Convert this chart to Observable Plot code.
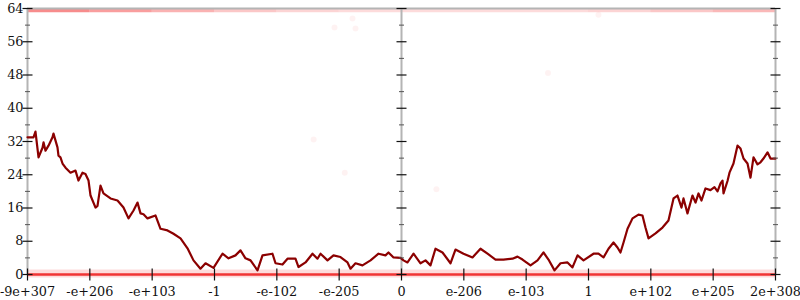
<!DOCTYPE html>
<html>
<head>
<meta charset="utf-8">
<script src="https://cdn.jsdelivr.net/npm/d3@7"></script>
<script src="https://cdn.jsdelivr.net/npm/@observablehq/plot@0.6"></script>
<style>
  html, body { margin: 0; padding: 0; background: #fff; }
  svg { display: block; }
</style>
</head>
<body>
<div id="chart"></div>
<script>
// Tick labels along the x axis (positions 0..12, evenly spaced)
const xTickLabels = ["-9e+307", "-e+206", "-e+103", "-1", "-e-102", "-e-205", "0",
                     "e-206", "e-103", "1", "e+102", "e+205", "2e+308"];
const xTicks = xTickLabels.map((_, i) => i);
const yMajor = [0, 8, 16, 24, 32, 40, 48, 56, 64];
const yMinor = [4, 12, 20, 28, 36, 44, 52, 60];
const axisPositions = [0, 6, 12];

// Line series (x in tick-position units, y values)
const lineX = [0,0.096,0.128,0.177,0.241,0.257,0.289,0.337,0.401,0.417,0.481,0.497,0.529,0.562,0.610,0.690,0.770,0.818,0.882,0.930,0.979,1.011,1.091,1.123,1.171,1.219,1.332,1.444,1.540,1.620,1.701,1.765,1.813,1.861,1.925,2.053,2.134,2.246,2.342,2.455,2.567,2.663,2.775,2.856,2.984,3.128,3.225,3.337,3.417,3.497,3.578,3.690,3.770,3.930,3.979,4.091,4.171,4.299,4.348,4.460,4.572,4.652,4.701,4.813,4.909,5.021,5.134,5.182,5.262,5.374,5.503,5.631,5.743,5.791,5.872,5.984,6.032,6.096,6.193,6.305,6.385,6.465,6.545,6.658,6.786,6.866,6.995,7.139,7.267,7.380,7.508,7.636,7.781,7.861,7.941,8.070,8.182,8.278,8.358,8.455,8.551,8.663,8.743,8.824,8.920,9.080,9.160,9.241,9.321,9.401,9.465,9.513,9.562,9.626,9.706,9.802,9.866,9.914,9.963,10.075,10.187,10.283,10.364,10.428,10.492,10.524,10.588,10.668,10.717,10.765,10.813,10.877,10.957,11.021,11.070,11.118,11.150,11.166,11.230,11.262,11.326,11.390,11.439,11.487,11.551,11.599,11.647,11.711,11.759,11.807,11.872,11.920,12];
const lineY = [33,33,34.4,28.2,30.5,31.8,29.8,31,33,33.9,30.6,28.6,28.2,26.7,25.7,24.5,25,22.6,24.5,24.2,22.6,19,16.1,16.5,21.4,19.5,18.3,17.8,16.1,13.5,15.4,17.3,14.7,14.5,13.5,14.2,11,10.6,9.8,8.7,6.3,3.4,1.4,2.7,1.6,5,3.9,4.6,5.8,3.9,3.4,1,4.6,5,2.7,2.4,3.8,3.8,1.8,2.9,5,3.8,5,3.4,4.6,4.2,2.9,1.4,2.7,2.2,3.4,5,4.6,5.3,4.1,4.0,3.4,2.9,5,2.7,3.4,2.2,6.2,5.3,2.7,6,5,4.1,6.2,5,3.6,3.6,3.8,4.3,3.6,2.2,3.4,5.3,3.6,1,2.7,2.9,1.7,4.6,3.4,5,5,4.1,6.2,7.7,6.5,5.3,7.7,11,13.5,14.4,14.2,11.3,8.7,9.9,11.3,13,18.3,19,16.1,18.3,14.7,19,17.3,19.5,17.8,20.7,20.3,21,20,21.9,22.6,19.5,22.5,24.5,26.7,31,30.3,27.9,26.7,23.3,28.2,26.5,27,27.9,29.4,27.9,27.9];
const line = lineX.map((x, i) => ({x, y: lineY[i]}));

// Faint scattered points away from the extremes
const scatterX = [4.925, 5.214, 5.262, 4.59, 5.09, 6.56, 8.35, 9.16];
const scatterY = [59.4, 61.6, 59.2, 32.5, 24.5, 20.5, 48.5, 62.5];
const scatter = scatterX.map((x, i) => ({x, y: scatterY[i]}));

// Density of points along the top (y = 64) band, by segment
const topBandX1 = [0, 1, 2, 3, 4, 5, 7, 9, 10, 11];
const topBandX2 = [1, 2, 3, 4, 5, 7, 9, 10, 11, 12];
const topBandOpacity = [0.45, 0.38, 0.3, 0.22, 0.17, 0.14, 0.14, 0.17, 0.22, 0.28];
const topBand = topBandX1.map((x1, i) => ({x1, x2: topBandX2[i], o: topBandOpacity[i]}));

const hTick = (half) => ({draw(c) { c.moveTo(-half, 0); c.lineTo(half, 0); }});
const vTick = (half) => ({draw(c) { c.moveTo(0, -half); c.lineTo(0, half); }});

const majorY = axisPositions.flatMap(x => yMajor.map(y => ({x, y})));
const minorY = axisPositions.flatMap(x => yMinor.map(y => ({x, y})));

const chart = Plot.plot({
  width: 800,
  height: 300,
  marginLeft: 27,
  marginRight: 25,
  marginTop: 8,
  marginBottom: 26,
  style: {fontFamily: "DejaVu Serif", fontSize: "12.8px", color: "#111", background: "#fff"},
  x: {domain: [0, 12], label: null},
  y: {domain: [0, 64], label: null},
  marks: [
    // point bands
    Plot.ruleY([0], {stroke: "#e00", strokeOpacity: 0.14, strokeWidth: 8, dy: -1}),
    Plot.ruleY(topBand, {y: 64, x1: "x1", x2: "x2", stroke: "#e00", strokeOpacity: "o", strokeWidth: 3.5, dy: 2}),
    Plot.dot(scatter, {x: "x", y: "y", r: 3, fill: "#e00", fillOpacity: 0.05}),
    // frame
    Plot.ruleX(axisPositions, {stroke: "#b4b4b4", strokeWidth: 2}),
    Plot.ruleY([64], {stroke: "#b4b4b4", strokeWidth: 2}),
    Plot.ruleY([0], {stroke: "#e22", strokeWidth: 2.5, strokeOpacity: 0.9}),
    // line
    Plot.line(line, {x: "x", y: "y", stroke: "#8b0000", strokeWidth: 2.2, strokeLinejoin: "round"}),
    // ticks
    Plot.dot(majorY, {x: "x", y: "y", symbol: hTick(5), stroke: "#111", strokeWidth: 1.2, fill: "none"}),
    Plot.dot(minorY, {x: "x", y: "y", symbol: hTick(2.5), stroke: "#555", strokeWidth: 1, fill: "none"}),
    Plot.dot(xTicks, {x: d => d, y: 0, symbol: vTick(6), stroke: "#111", strokeWidth: 1.2, fill: "none"}),
    // labels
    Plot.axisY(yMajor, {anchor: "left", label: null, tickSize: 0, tickPadding: 4, fontSize: 12.8}),
    Plot.axisX(xTicks, {anchor: "bottom", label: null, tickSize: 0, tickPadding: 12, tickFormat: i => xTickLabels[i], fontSize: 12.8})
  ]
});
document.getElementById("chart").append(chart);
</script>
</body>
</html>
